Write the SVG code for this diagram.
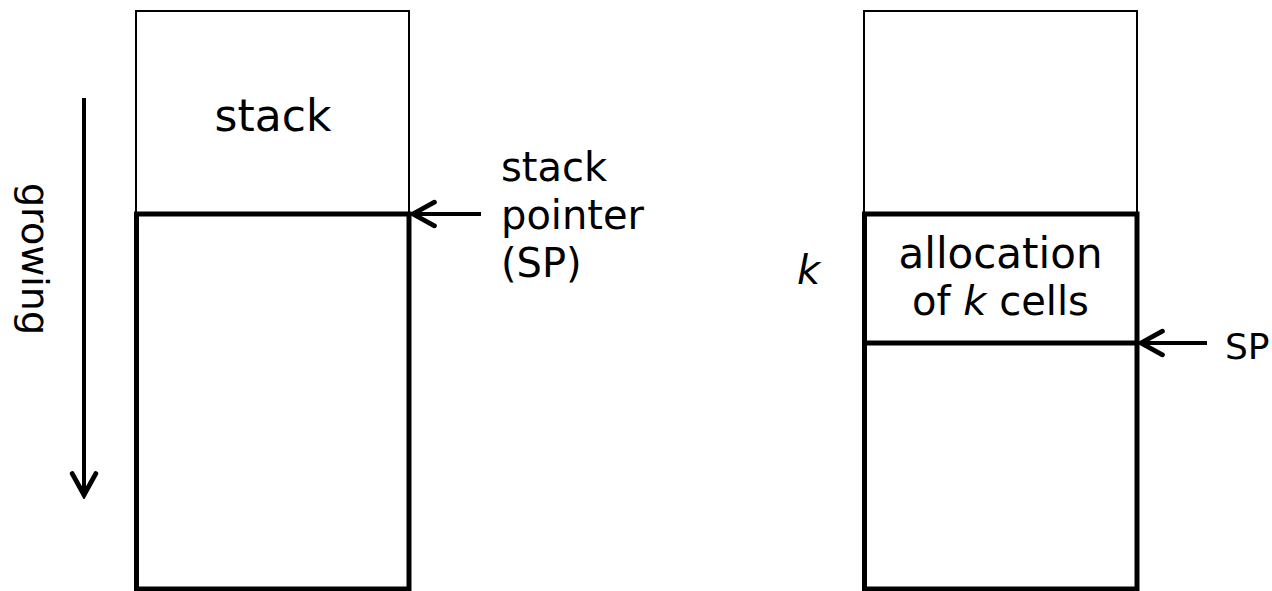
<svg xmlns="http://www.w3.org/2000/svg" width="1272" height="591" viewBox="0 0 1272 591">
  <style>
    .thin { fill: none; stroke: #000; stroke-width: 2; }
    .thick { fill: none; stroke: #000; stroke-width: 5; }
    .wire { fill: none; stroke: #000; stroke-width: 4; }
    .lbl { font-family: "DejaVu Sans", "Liberation Sans", sans-serif; fill: #000; }
    .it { font-style: italic; }
  </style>
  <defs>
    <marker id="vhead" markerUnits="userSpaceOnUse" markerWidth="30" markerHeight="30" viewBox="-24 -14 28 28" refX="0" refY="0" orient="auto">
      <path d="M -20 -11 L 0 0 L -20 11" fill="none" stroke="#000" stroke-width="4.5" stroke-linecap="round" stroke-linejoin="miter"/>
    </marker>
  </defs>

  <rect width="1272" height="591" fill="#fff"/>

  <!-- left column: stack with pointer -->
  <g id="stack-left">
    <rect class="thin" x="136" y="11" width="273" height="203"/>
    <rect class="thick" x="136.5" y="214" width="272.5" height="375"/>
    <text class="lbl" x="273" y="131" font-size="44" text-anchor="middle">stack</text>
  </g>

  <g id="growing-label">
    <text class="lbl" font-size="38" text-anchor="middle" transform="translate(22 259) rotate(90)">growing</text>
  </g>

  <g id="sp-label-left">
    <text class="lbl" x="501" y="181" font-size="40">stack</text>
    <text class="lbl" x="501" y="229" font-size="40">pointer</text>
    <text class="lbl" x="501" y="277" font-size="40">(SP)</text>
  </g>

  <!-- right column: stack after allocating k cells -->
  <g id="stack-right">
    <rect class="thin" x="864" y="11" width="273" height="203"/>
    <rect class="thick" x="864.5" y="214" width="272.5" height="375"/>
    <line class="thick" x1="864.5" y1="343" x2="1137" y2="343"/>
    <text class="lbl" x="1000.5" y="268" font-size="42" text-anchor="middle">allocation</text>
    <text class="lbl" x="1000.5" y="315" font-size="40" text-anchor="middle">of <tspan class="it">k</tspan> cells</text>
  </g>

  <g id="k-label">
    <text class="lbl it" x="797" y="284" font-size="40">k</text>
  </g>

  <g id="sp-label-right">
    <text class="lbl" x="1225" y="359" font-size="36">SP</text>
  </g>

  <g id="connectors">
    <line class="wire" x1="84" y1="98" x2="84" y2="495" marker-end="url(#vhead)"/>
    <line class="wire" x1="481" y1="214" x2="413" y2="214" marker-end="url(#vhead)"/>
    <line class="wire" x1="1207" y1="343" x2="1141" y2="343" marker-end="url(#vhead)"/>
  </g>
</svg>
